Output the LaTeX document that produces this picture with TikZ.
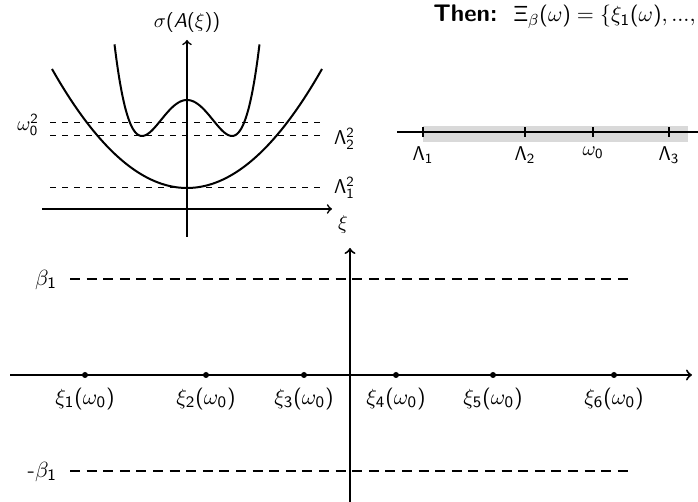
\documentclass[tikz,border=0pt]{standalone}
% sans serif math as on the slides
\DeclareSymbolFont{operators}{OT1}{cmss}{m}{n}
\SetSymbolFont{operators}{bold}{OT1}{cmss}{bx}{n}
\DeclareSymbolFont{sfslant}{OT1}{cmss}{m}{sl}
\DeclareMathSymbol{A}{\mathalpha}{sfslant}{`A}
\DeclareMathSymbol{\sfminus}{\mathord}{operators}{"2D}
\tikzset{
  sigaxis/.style={line width=0.8pt, ->},
  wcurve/.style={line width=1pt, smooth},
  levelline/.style={dashed, line width=0.5pt},
  numline/.style={line width=0.8pt, ->},
  tickmark/.style={line width=0.8pt},
  mainaxis/.style={line width=1pt, ->},
  betaline/.style={line width=1pt, dash pattern=on 5pt off 3.3pt},
  toplab/.style={font=\fontsize{10}{12}\selectfont},
  lowlab/.style={font=\fontsize{11}{13}\selectfont},
  dot/.style={circle, fill, inner sep=0pt, minimum size=3pt},
}
\begin{document}
\begin{tikzpicture}[x=0.5pt, y=0.5pt]
    \useasboundingbox (0,0) rectangle (698,502);
    % band functions
    \draw[sigaxis] (187,265) -- (187,462) node[toplab, above] (sig) {$\sigma(A(\xi))$};
    \draw[sigaxis] (42,293) -- (332,293);
    \node[toplab] (xi) at (343,277) {$\xi$};
    \foreach \y in {379, 366, 314} {
        \draw[levelline] (50,\y) -- (325,\y);
    }
    \node[toplab, anchor=east] (om) at (46,377) {$\omega_0^2$};
    \node[toplab, anchor=west] (la2) at (327,363) {$\Lambda_2^2$};
    \node[toplab, anchor=west] (la1) at (327,314) {$\Lambda_1^2$};
    \draw[wcurve] plot[domain=-13.5:13.5, samples=60] ({187+10*\x},{314+0.653*\x*\x});
    \draw[wcurve] plot[domain=-7.25:7.25, samples=80] ({187+10*\x},{366+0.08779*(\x*\x-20.25)^2});
    % spectrum
    \node[anchor=base west, inner sep=0pt, font=\fontsize{11}{13}\selectfont] (then) at (433,480)
        {{\fontsize{12}{14}\selectfont\sffamily\bfseries Then:}\hspace{8pt}$\Xi_\beta(\omega)=\{\xi_1(\omega),...,\xi$};
    \fill[gray!30] (423,360) rectangle (688,376);
    \draw[numline] (397,370) -- (704,370);
    \foreach \x/\t/\n in {423/\Lambda_1/l1, 525/\Lambda_2/l2, 593/\omega_0/w0, 669/\Lambda_3/l3} {
        \draw[tickmark] (\x,365) -- (\x,375);
        \node[toplab, anchor=north] (\n) at (\x,362) {$\t$};
    }
    % strip
    \draw[mainaxis] (10,127) -- (692,127);
    \draw[mainaxis] (350,0) -- (350,254);
    \draw[betaline] (70,223) -- (634,223);
    \draw[betaline] (70,31) -- (634,31);
    \node[lowlab, anchor=east] (b1) at (64,222) {$\beta_1$};
    \node[lowlab, anchor=east] (mb1) at (64,30) {$\sfminus\beta_1$};
    \foreach \x [count=\i] in {85, 206, 304, 396, 493, 614} {
        \node[dot] (p\i) at (\x,127) {};
        \node[lowlab, anchor=north] (q\i) at (\x,121) {$\xi_{\i}(\omega_0)$};
    }
\end{tikzpicture}
\end{document}
